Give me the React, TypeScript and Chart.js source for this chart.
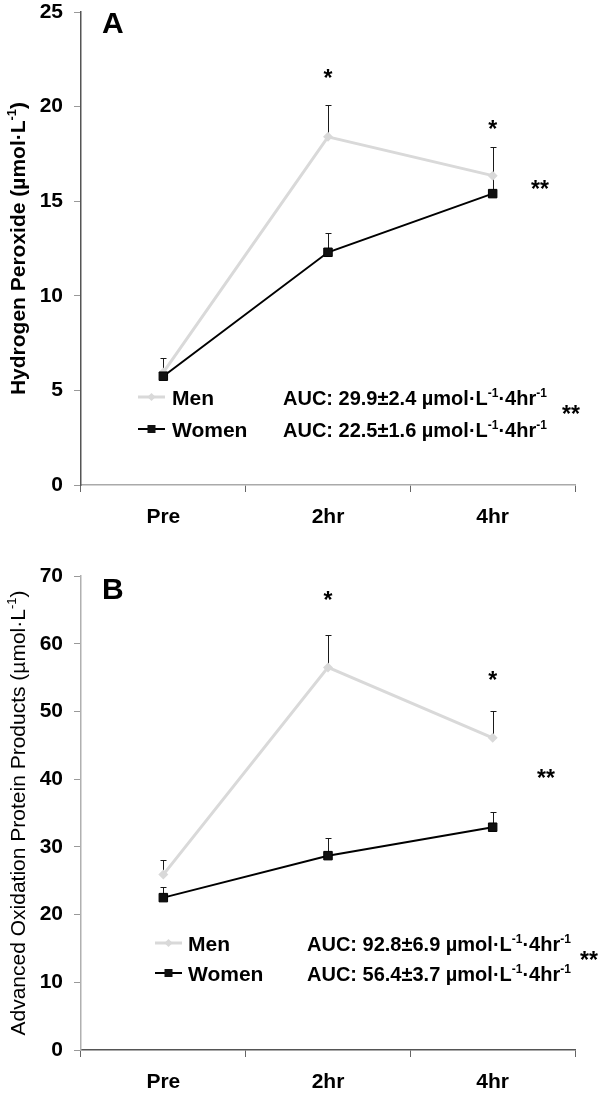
import { useEffect, useRef } from "react"
import { Chart, registerables } from "chart.js"

Chart.register(...registerables)

const FONT = '"Liberation Sans", Arial, Helvetica, sans-serif'
const MEN_GRAY = "#d9d9d9"

const timepoints = ["Pre", "2hr", "4hr"]

// Panel A - hydrogen peroxide (umol/L), mean and SEM
const h2o2Men = [5.95, 18.4, 16.35]
const h2o2MenSem = [0.75, 1.7, 1.5]
const h2o2Women = [5.75, 12.3, 15.4]
const h2o2WomenSem = [0.3, 1.0, 1.0]
const h2o2Stars = [null, 21.75, 19.1]
const h2o2Auc = ["29.9±2.4", "22.5±1.6"]
const h2o2Ticks = { max: 25, step: 5 }

// Panel B - advanced oxidation protein products (umol/L)
const aoppMen = [25.9, 56.5, 46.1]
const aoppMenSem = [2.2, 4.8, 3.9]
const aoppWomen = [22.5, 28.7, 32.9]
const aoppWomenSem = [1.5, 2.6, 2.3]
const aoppStars = [null, 67.2, 55.4]
const aoppAuc = ["92.8±6.9", "56.4±3.7"]
const aoppTicks = { max: 70, step: 10 }

const seriesNames = ["Men", "Women"]

type Part = { t: string; sup?: boolean }

interface Panel {
  letter: string
  letterY: number
  men: number[]
  menSem: number[]
  women: number[]
  womenSem: number[]
  stars: (number | null)[]
  doubleStars: [number, number][]
  auc: string[]
  ticks: { max: number; step: number }
  yTitle: string
  yTitleWeight: string
  top: number
  bottom: number
  yBorder: string
  xBorder: string
  markerX: number
  nameX: number
  aucX: number
  legendY: number[]
}

function partsWidth(ctx: CanvasRenderingContext2D, parts: Part[], size: number, weight: string) {
  let w = 0
  for (const p of parts) {
    ctx.font = `${weight} ${p.sup ? Math.round(size * 0.6) : size}px ${FONT}`
    w += ctx.measureText(p.t).width
  }
  return w
}

function drawParts(ctx: CanvasRenderingContext2D, parts: Part[], x: number, y: number, size: number, weight: string) {
  for (const p of parts) {
    ctx.font = `${weight} ${p.sup ? Math.round(size * 0.6) : size}px ${FONT}`
    ctx.fillText(p.t, x, p.sup ? y - size * 0.4 : y)
    x += ctx.measureText(p.t).width
  }
}

function drawMarker(ctx: CanvasRenderingContext2D, x1: number, x2: number, y: number, men: boolean) {
  ctx.save()
  ctx.strokeStyle = men ? MEN_GRAY : "#000"
  ctx.fillStyle = men ? MEN_GRAY : "#111"
  ctx.lineWidth = men ? 3 : 2
  ctx.beginPath()
  ctx.moveTo(x1, y)
  ctx.lineTo(x2, y)
  ctx.stroke()
  const cx = (x1 + x2) / 2
  if (men) {
    ctx.beginPath()
    ctx.moveTo(cx, y - 4)
    ctx.lineTo(cx + 4, y)
    ctx.lineTo(cx, y + 4)
    ctx.lineTo(cx - 4, y)
    ctx.closePath()
    ctx.fill()
  } else {
    ctx.fillRect(cx - 4, y - 4, 8, 8)
  }
  ctx.restore()
}

function drawStar(ctx: CanvasRenderingContext2D, text: string, x: number, yCenter: number) {
  ctx.font = `bold 23px ${FONT}`
  ctx.textAlign = "center"
  ctx.fillText(text, x, yCenter + 13)
  ctx.textAlign = "left"
}

function makeChart(canvas: HTMLCanvasElement, panel: Panel) {
  const decorations = {
    id: "decorations",
    beforeDatasetsDraw(chart: Chart) {
      const { ctx } = chart
      const xs = chart.scales.x
      const ys = chart.scales.y
      ctx.save()
      ctx.strokeStyle = "#1a1a1a"
      ctx.lineWidth = 1
      const bars: [number[], number[]][] = [
        [panel.men, panel.menSem],
        [panel.women, panel.womenSem],
      ]
      for (const [vals, sems] of bars) {
        vals.forEach((v, i) => {
          const px = Math.round(xs.getPixelForValue(i)) + 0.5
          const p0 = ys.getPixelForValue(v)
          const p1 = Math.round(ys.getPixelForValue(v + sems[i])) + 0.5
          ctx.beginPath()
          ctx.moveTo(px, p0)
          ctx.lineTo(px, p1)
          ctx.moveTo(px - 3, p1)
          ctx.lineTo(px + 3, p1)
          ctx.stroke()
        })
      }
      ctx.restore()
    },
    afterDraw(chart: Chart) {
      const { ctx, chartArea } = chart
      const xs = chart.scales.x
      const ys = chart.scales.y
      ctx.save()
      ctx.fillStyle = "#000"
      ctx.textBaseline = "alphabetic"
      ctx.textAlign = "left"

      // panel letter
      ctx.font = `bold 30px ${FONT}`
      ctx.fillText(panel.letter, 102, panel.letterY)

      // significance marks
      panel.stars.forEach((v, i) => {
        if (v !== null) drawStar(ctx, "*", xs.getPixelForValue(i), ys.getPixelForValue(v))
      })
      for (const [x, y] of panel.doubleStars) drawStar(ctx, "**", x, y)

      // legend with AUC values
      seriesNames.forEach((name, i) => {
        const base = panel.legendY[i]
        drawMarker(ctx, panel.markerX, panel.markerX + 27, base - 8, i === 0)
        ctx.fillStyle = "#000"
        ctx.font = `bold 21px ${FONT}`
        ctx.fillText(name, panel.nameX, base)
        drawParts(
          ctx,
          [
            { t: `AUC: ${panel.auc[i]} µmol·L` },
            { t: "-1", sup: true },
            { t: "·4hr" },
            { t: "-1", sup: true },
          ],
          panel.aucX,
          base,
          20,
          "bold"
        )
      })

      // rotated y-axis title
      const title: Part[] = [{ t: `${panel.yTitle} (µmol·L` }, { t: "-1", sup: true }, { t: ")" }]
      const w = partsWidth(ctx, title, 21, panel.yTitleWeight)
      const cy = (chartArea.top + chartArea.bottom) / 2
      ctx.translate(24.5, cy)
      ctx.rotate(-Math.PI / 2)
      drawParts(ctx, title, -w / 2, 0, 21, panel.yTitleWeight)
      ctx.restore()
    },
  }

  const tickFont = { family: FONT, size: 21, weight: "bold" as const, lineHeight: 1 }
  const xTickFont = { family: FONT, size: 21, weight: "bold" as const }

  return new Chart(canvas, {
    type: "line",
    data: {
      labels: timepoints,
      datasets: [
        {
          label: seriesNames[1],
          data: panel.women,
          borderColor: "#000",
          borderWidth: 2,
          pointStyle: "rect",
          pointRadius: 6,
          pointBackgroundColor: "#111",
          pointBorderColor: "#000",
          pointBorderWidth: 1,
          tension: 0,
        },
        {
          label: seriesNames[0],
          data: panel.men,
          borderColor: MEN_GRAY,
          borderWidth: 3,
          pointStyle: "rectRot",
          pointRadius: 5,
          pointBackgroundColor: MEN_GRAY,
          pointBorderColor: MEN_GRAY,
          pointBorderWidth: 0,
          tension: 0,
        },
      ],
    },
    options: {
      responsive: false,
      animation: false,
      layout: { padding: { top: panel.top, right: 25, left: 0, bottom: 0 } },
      plugins: {
        legend: { display: false },
        tooltip: { enabled: false },
      },
      scales: {
        x: {
          offset: true,
          grid: { offset: true, drawOnChartArea: false, tickLength: 7, color: "#666" },
          border: { color: panel.xBorder, width: 1.5 },
          ticks: { font: xTickFont, color: "#000", padding: 13, maxRotation: 0 },
          afterFit: (scale) => {
            scale.height = 548 - panel.bottom
            scale.paddingLeft = 0
            scale.paddingRight = 0
          },
        },
        y: {
          min: 0,
          max: panel.ticks.max,
          grid: { drawOnChartArea: false, tickLength: 7, color: "#999" },
          border: { color: panel.yBorder, width: 1.5 },
          ticks: { stepSize: panel.ticks.step, font: tickFont, color: "#000", padding: 11 },
          afterFit: (scale) => {
            scale.width = 81
            scale.paddingTop = 0
            scale.paddingBottom = 0
          },
        },
      },
    },
    plugins: [decorations],
  })
}

const panelA: Panel = {
  letter: "A",
  letterY: 33,
  men: h2o2Men,
  menSem: h2o2MenSem,
  women: h2o2Women,
  womenSem: h2o2WomenSem,
  stars: h2o2Stars,
  doubleStars: [
    [540, 184],
    [571, 409],
  ],
  auc: h2o2Auc,
  ticks: h2o2Ticks,
  yTitle: "Hydrogen Peroxide",
  yTitleWeight: "bold",
  top: 12,
  bottom: 485,
  yBorder: "#555",
  xBorder: "#aaa",
  markerX: 138,
  nameX: 172,
  aucX: 283,
  legendY: [405, 437],
}

const panelB: Panel = {
  letter: "B",
  letterY: 51,
  men: aoppMen,
  menSem: aoppMenSem,
  women: aoppWomen,
  womenSem: aoppWomenSem,
  stars: aoppStars,
  doubleStars: [
    [546, 225],
    [589, 407],
  ],
  auc: aoppAuc,
  ticks: aoppTicks,
  yTitle: "Advanced Oxidation Protein Products",
  yTitleWeight: "normal",
  top: 28,
  bottom: 502,
  yBorder: "#b0b0b0",
  xBorder: "#555",
  markerX: 155,
  nameX: 188,
  aucX: 307,
  legendY: [403, 433],
}

function PanelChart({ panel }: { panel: Panel }) {
  const canvasRef = useRef<HTMLCanvasElement>(null)

  useEffect(() => {
    if (!canvasRef.current) return
    const chart = makeChart(canvasRef.current, panel)
    return () => chart.destroy()
  }, [panel])

  return <canvas ref={canvasRef} width={600} height={548} style={{ display: "block", width: 600, height: 548 }} />
}

export default function App() {
  return (
    <div style={{ position: "absolute", left: 0, top: 0, width: 600, height: 1096, background: "#fff" }}>
      <PanelChart panel={panelA} />
      <PanelChart panel={panelB} />
    </div>
  )
}
